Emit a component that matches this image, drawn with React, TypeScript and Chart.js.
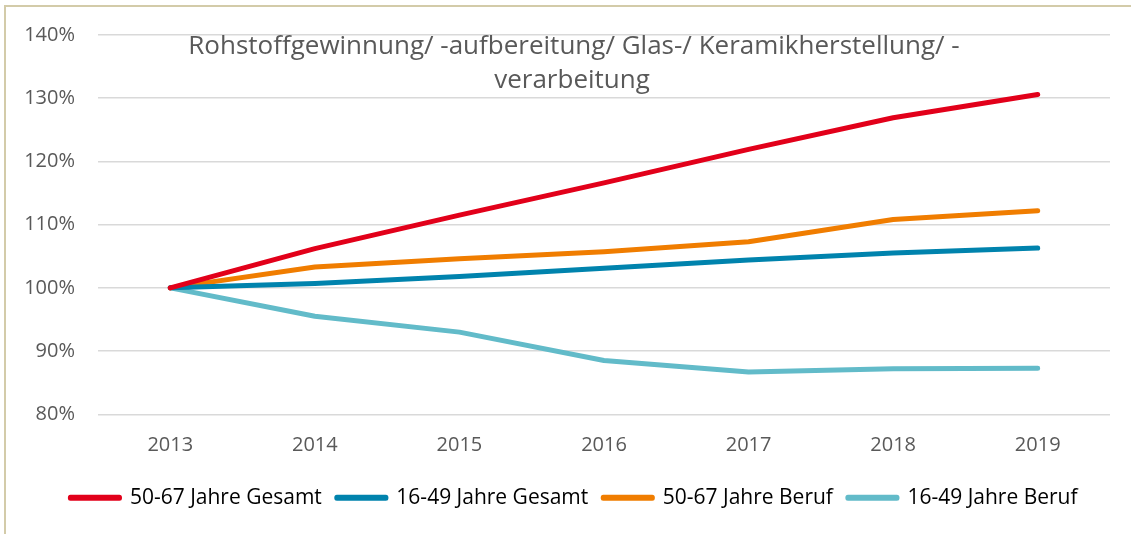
import React, { useEffect, useRef } from "react";
import { Chart, registerables } from "chart.js";

Chart.register(...registerables);

const years = ["2013", "2014", "2015", "2016", "2017", "2018", "2019"];
const gesamt5067 = [1.0, 1.062, 1.115, 1.166, 1.219, 1.269, 1.306];
const gesamt1649 = [1.0, 1.007, 1.018, 1.031, 1.044, 1.055, 1.063];
const beruf5067 = [1.0, 1.033, 1.046, 1.057, 1.073, 1.108, 1.122];
const beruf1649 = [1.0, 0.955, 0.93, 0.885, 0.867, 0.872, 0.873];
const seriesNames = [
  "50-67 Jahre Gesamt",
  "16-49 Jahre Gesamt",
  "50-67 Jahre Beruf",
  "16-49 Jahre Beruf",
];
const titleLines = [
  "Rohstoffgewinnung/ -aufbereitung/ Glas-/ Keramikherstellung/ -",
  "verarbeitung",
];

const colors = ["#e2001a", "#0083ad", "#f07d00", "#62bbc9"];
const FONT = "'Open Sans', sans-serif";

export default function App() {
  const ref = useRef<HTMLCanvasElement | null>(null);

  useEffect(() => {
    if (!ref.current) return;
    const values = [gesamt5067, gesamt1649, beruf5067, beruf1649];
    const titlePlugin = {
      id: "overlayTitle",
      afterLayout(chart: any) {
        if (chart.legend) chart.legend.left = chart.legend.left + 38;
      },
      afterDraw(chart: any) {
        const ctx = chart.ctx;
        ctx.save();
        ctx.font = `26px ${FONT}`;
        ctx.fillStyle = "#595959";
        ctx.textAlign = "center";
        ctx.textBaseline = "alphabetic";
        ctx.fillText(titleLines[0], 574, 54);
        ctx.fillText(titleLines[1], 572, 88);
        ctx.restore();
      },
    };
    const chart = new Chart(ref.current, {
      type: "line",
      data: {
        labels: years,
        datasets: values.map((v, i) => ({
          label: seriesNames[i],
          data: v,
          borderColor: colors[i],
          backgroundColor: colors[i],
          borderWidth: 5,
          borderCapStyle: "round",
          borderJoinStyle: "round",
          pointRadius: 0,
          tension: 0,
          fill: false,
        })),
      },
      options: {
        animation: false,
        responsive: true,
        maintainAspectRatio: false,
        layout: { padding: { left: 0, right: 21, top: 34, bottom: 15.7 } },
        font: { family: FONT },
        scales: {
          x: {
            offset: true,
            grid: { display: false, drawTicks: false },
            border: { display: false },
            ticks: {
              color: "#595959",
              font: { family: FONT, size: 20 },
              padding: 19,
              maxRotation: 0,
            },
            afterFit: (s: any) => {
              s.height = 58;
            },
          },
          y: {
            min: 0.8,
            max: 1.4,
            grid: { color: "#d9d9d9", lineWidth: 1.5, drawTicks: false },
            border: { display: false },
            ticks: {
              stepSize: 0.1,
              color: "#595959",
              font: { family: FONT, size: 20 },
              padding: 23,
              callback: (v: any) => `${Math.round(Number(v) * 100)}%`,
            },
            afterFit: (s: any) => {
              s.width = 98;
            },
          },
        },
        plugins: {
          title: { display: false },
          tooltip: { enabled: false },
          legend: {
            position: "bottom",
            labels: {
              color: "#000000",
              font: { family: FONT, size: 21 },
              boxWidth: 49,
              boxHeight: 1,
              padding: 15,
            },
          },
        },
      },
      plugins: [titlePlugin],
    } as any);
    return () => chart.destroy();
  }, []);

  return (
    <div
      style={{
        position: "fixed",
        left: 0,
        top: 0,
        width: 1131,
        height: 534,
        background: "#ffffff",
      }}
    >
      <div
        style={{
          position: "absolute",
          left: 4,
          top: 5,
          width: 1127,
          height: 529,
          borderTop: "2px solid #d3cba9",
          borderLeft: "2px solid #d3cba9",
          boxSizing: "border-box",
        }}
      />
      <div style={{ position: "absolute", left: 0, top: 0, width: 1131, height: 534 }}>
        <canvas ref={ref} />
      </div>
    </div>
  );
}
